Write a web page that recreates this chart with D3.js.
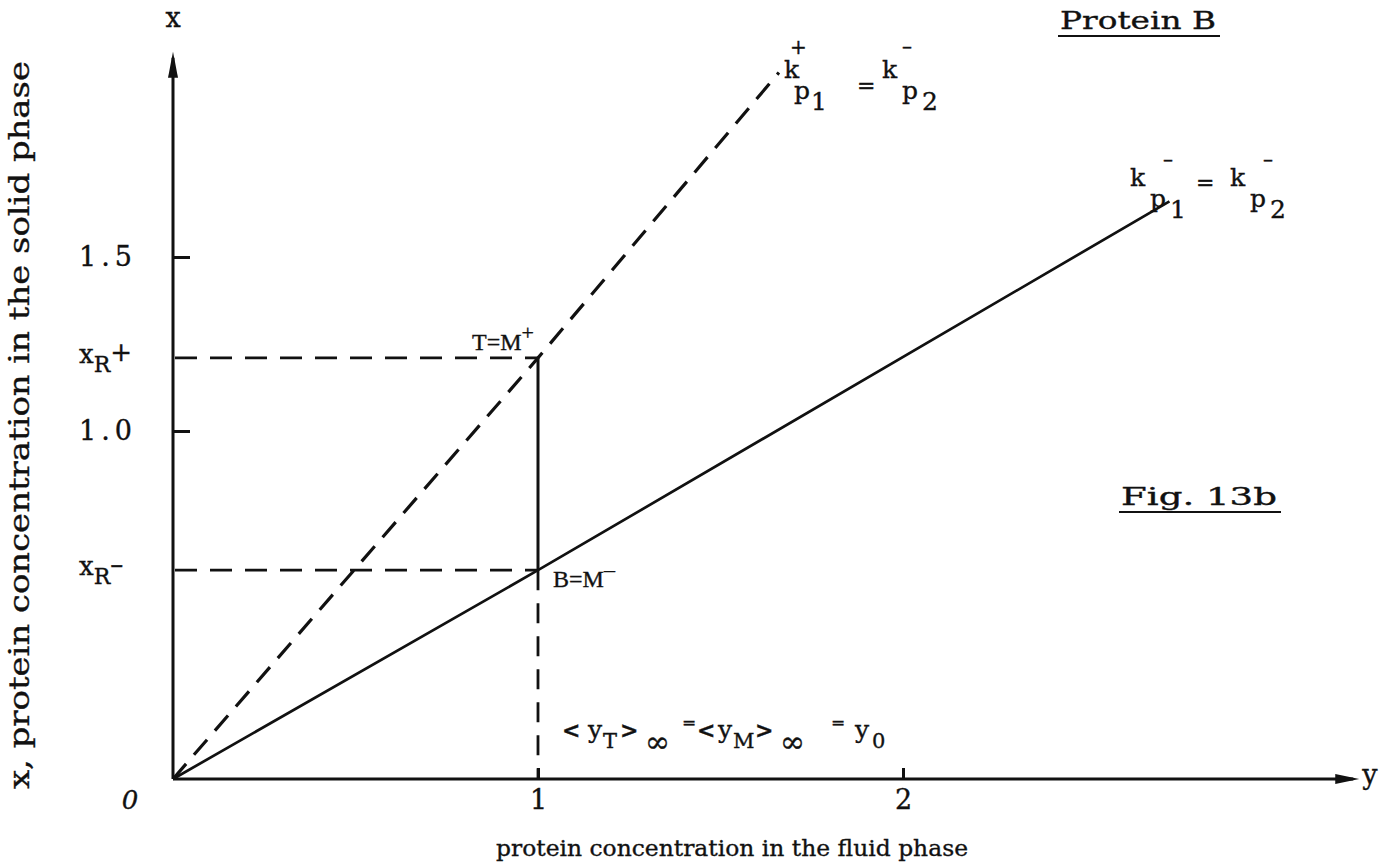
<!DOCTYPE html>
<html>
<head>
<meta charset="utf-8">
<script src="https://cdn.jsdelivr.net/npm/d3@7"></script>
<style>
  body { margin: 0; background: #fff; }
  text { fill: #111; stroke: #111; stroke-width: 0.35px; }
</style>
</head>
<body>
<svg id="chart" width="1392" height="864"></svg>
<script>
// ---- values ----
const xTickValues = [1, 2];
const xTickLabels = ["1", "2"];
const yTickValues = [1.0, 1.5];
const yTickLabels = ["1.0", "1.5"];
// operating lines: k+p1 = k-p2 (dashed) and k-p1 = k-p2 (solid)
const steepPoints = [[0, 0], [1, 1.21], [1.66, 2.03]];
const shallowPoints = [[0, 0], [1, 0.6], [2.73, 1.66]];
const feedY = 1;                 // y0 on the fluid-phase axis
const xRLevels = [1.21, 0.6];    // x_R+ and x_R-
const xRSigns = ["+", "-"];
const axisMax = { x: 3.25, y: 2.09 };

const svg = d3.select("#chart");
const TYPE = "'DejaVu Serif', 'Liberation Serif', serif";
const ROMAN = "'Liberation Serif', 'DejaVu Serif', serif";
const MINUS = "\u2013";

const x = d3.scaleLinear().domain([0, 1]).range([173, 538]);
const y = d3.scaleLinear().domain([0, 1.5]).range([779, 257]);

const ink = "#111";

// ---- axes with ticks ----
const yAxis = d3.axisLeft(y)
  .tickValues(yTickValues)
  .tickFormat((d, i) => yTickLabels[i])
  .tickSizeInner(-17).tickSizeOuter(0).tickPadding(36);
const gy = svg.append("g").attr("transform", `translate(${x(0)},0)`).call(yAxis);
gy.select(".domain").remove();
gy.selectAll(".tick line").attr("stroke", ink).attr("stroke-width", 3);
gy.selectAll(".tick text")
  .attr("font-family", TYPE).attr("font-size", 27)
  .attr("letter-spacing", 5).attr("fill", ink);

const xAxis = d3.axisBottom(x)
  .tickValues(xTickValues)
  .tickFormat((d, i) => xTickLabels[i])
  .tickSizeInner(-11).tickSizeOuter(0).tickPadding(11);
const gx = svg.append("g").attr("transform", `translate(0,${y(0)})`).call(xAxis);
gx.select(".domain").remove();
gx.selectAll(".tick line").attr("stroke", ink).attr("stroke-width", 3);
gx.selectAll(".tick text")
  .attr("font-family", TYPE).attr("font-size", 27).attr("fill", ink);

// axis lines with arrowheads
svg.append("line")
  .attr("x1", x(0)).attr("y1", y(0)).attr("x2", x(0)).attr("y2", y(axisMax.y) + 6)
  .attr("stroke", ink).attr("stroke-width", 3);
svg.append("line")
  .attr("x1", x(0)).attr("y1", y(0)).attr("x2", x(axisMax.x) - 6).attr("y2", y(0))
  .attr("stroke", ink).attr("stroke-width", 3);
const ax = x(0), ay = y(axisMax.y);
svg.append("path")
  .attr("d", `M${ax},${ay} L${ax - 5},${ay + 26} L${ax + 5},${ay + 26} Z`)
  .attr("fill", ink);
const bx = x(axisMax.x), by = y(0);
svg.append("path")
  .attr("d", `M${bx},${by} L${bx - 24},${by - 5} L${bx - 24},${by + 5} Z`)
  .attr("fill", ink);

// axis letters
svg.append("text").attr("x", x(0)).attr("y", 27).attr("text-anchor", "middle")
  .attr("font-family", TYPE).attr("font-size", 27).text("x");
svg.append("text").attr("x", bx + 3).attr("y", by + 5)
  .attr("font-family", TYPE).attr("font-size", 27).text("y");
svg.append("text").attr("x", 130).attr("y", y(0) + 30).attr("text-anchor", "middle")
  .attr("font-family", TYPE).attr("font-size", 26).attr("font-style", "italic").text("0");

// ---- lines ----
const line = d3.line().x(d => x(d[0])).y(d => y(d[1]));
svg.append("path").datum(steepPoints).attr("d", line)
  .attr("fill", "none").attr("stroke", ink).attr("stroke-width", 3.2)
  .attr("stroke-dasharray", "20,12");
svg.append("path").datum(shallowPoints).attr("d", line)
  .attr("fill", "none").attr("stroke", ink).attr("stroke-width", 2.7);

// guides to the x_R levels
xRLevels.forEach(v => {
  svg.append("line")
    .attr("x1", x(0) + 2).attr("y1", y(v)).attr("x2", x(feedY)).attr("y2", y(v))
    .attr("stroke", ink).attr("stroke-width", 2.8).attr("stroke-dasharray", "22,13");
});
// T -> B solid step and dashed drop to the axis
svg.append("line")
  .attr("x1", x(feedY)).attr("y1", y(xRLevels[0])).attr("x2", x(feedY)).attr("y2", y(xRLevels[1]))
  .attr("stroke", ink).attr("stroke-width", 3);
svg.append("line")
  .attr("x1", x(feedY)).attr("y1", y(xRLevels[1])).attr("x2", x(feedY)).attr("y2", y(0))
  .attr("stroke", ink).attr("stroke-width", 2.8).attr("stroke-dasharray", "20,13");

// x_R labels
xRLevels.forEach((v, i) => {
  const t = svg.append("text").attr("x", 79).attr("y", y(v) + 5)
    .attr("font-family", TYPE).attr("font-size", 26);
  t.append("tspan").text("x");
  t.append("tspan").attr("font-size", 22).attr("dy", 9).text("R");
  t.append("tspan").attr("font-size", 26).attr("dy", -11).text(xRSigns[i] === "+" ? "+" : MINUS);
});

// point labels
const tm = svg.append("text").attr("x", x(feedY) - 4).attr("y", y(xRLevels[0]) - 8)
  .attr("text-anchor", "end").attr("font-family", ROMAN).attr("font-size", 24);
tm.append("tspan").text("T=M");
tm.append("tspan").attr("dy", -10).attr("font-size", 22).text("+");

const bm = svg.append("text").attr("x", x(feedY) + 15).attr("y", y(xRLevels[1]) + 17)
  .attr("font-family", ROMAN).attr("font-size", 24);
bm.append("tspan").text("B=M");
bm.append("tspan").attr("dy", -10).attr("font-size", 22).text(MINUS);

// k-term: k with a sign above and a subscripted p_n below
function kTerm(g, x0, base, sign, n, o) {
  const f = (xx, yy, s, size) => g.append("text").attr("x", xx).attr("y", yy)
    .attr("font-family", TYPE).attr("font-size", size).text(s);
  f(x0, base, "k", 25);
  f(x0 + o.sx, base + o.sy, sign === "+" ? "+" : MINUS, 20);
  f(x0 + o.px, base + 21, "p", 25);
  f(x0 + o.nx, base + 32, n, 25);
}
const k1 = svg.append("g");
kTerm(k1, 784, 78, "+", "1", { sx: 6, sy: -24, px: 10, nx: 27 });
k1.append("text").attr("x", 857).attr("y", 93).attr("font-family", TYPE).attr("font-size", 22).text("=");
kTerm(k1, 882, 78, "-", "2", { sx: 20, sy: -25, px: 20, nx: 40 });

const k2 = svg.append("g");
const o2 = { sx: 33, sy: -20, px: 20, nx: 40 };
kTerm(k2, 1130, 186, "-", "1", o2);
k2.append("text").attr("x", 1196).attr("y", 190).attr("font-family", TYPE).attr("font-size", 22).text("=");
kTerm(k2, 1230, 186, "-", "2", o2);

// mean fluid concentration annotation
const ann = svg.append("g").attr("font-family", TYPE).attr("font-size", 25);
function annText(xp, yp, s, opts = {}) {
  const t = ann.append("text").attr("x", xp).attr("y", yp).text(s);
  if (opts.size) t.attr("font-size", opts.size);
  if (opts.weight) t.attr("font-weight", opts.weight);
  return t;
}
annText(562, 738, "<", { weight: "bold", size: 22 });
annText(588, 738, "y");
annText(603, 748, "T", { size: 21 });
annText(620, 738, ">", { weight: "bold", size: 22 });
annText(645, 752, "\u221E", { size: 30 });
annText(682, 728, "=", { size: 17 });
annText(697, 738, "<", { weight: "bold", size: 22 });
annText(718, 738, "y");
annText(733, 748, "M", { size: 21 });
annText(755, 738, ">", { weight: "bold", size: 22 });
annText(780, 752, "\u221E", { size: 30 });
annText(831, 728, "=", { size: 17 });
annText(855, 738, "y");
annText(872, 748, "0", { size: 21 });

// axis titles
svg.append("text").attr("x", 732).attr("y", 856).attr("text-anchor", "middle")
  .attr("font-family", TYPE).attr("font-size", 23)
  .attr("textLength", 472).attr("lengthAdjust", "spacingAndGlyphs")
  .text("protein concentration in the fluid phase");
svg.append("text")
  .attr("transform", "translate(29,425) rotate(-90)")
  .attr("text-anchor", "middle")
  .attr("font-family", TYPE).attr("font-size", 28)
  .attr("textLength", 728).attr("lengthAdjust", "spacingAndGlyphs")
  .text("x, protein concentration in the solid phase");

// headings
function underlined(xp, yp, w, s) {
  svg.append("text").attr("x", xp).attr("y", yp)
    .attr("font-family", TYPE).attr("font-size", 25)
    .attr("textLength", w).attr("lengthAdjust", "spacingAndGlyphs").text(s);
  svg.append("line").attr("x1", xp - 2).attr("x2", xp + w + 4)
    .attr("y1", yp + 7).attr("y2", yp + 7).attr("stroke", ink).attr("stroke-width", 1.8);
}
underlined(1060, 29, 156, "Protein B");
underlined(1121, 505, 156, "Fig. 13b");
</script>
</body>
</html>
